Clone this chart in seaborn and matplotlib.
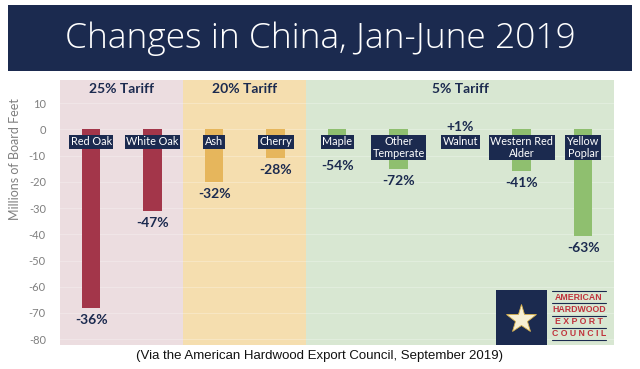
import matplotlib
matplotlib.use("Agg")
import matplotlib.pyplot as plt
from matplotlib.patches import Rectangle
import seaborn as sns
import pandas as pd
import numpy as np

# ---- data ----
species = ["Red Oak", "White Oak", "Ash", "Cherry", "Maple", "Other\nTemperate",
           "Walnut", "Western Red\nAlder", "Yellow\nPoplar"]
change_mbf = [-68, -31, -20, -11, -6, -15, 0.3, -16, -40.5]
pct_labels = ["-36%", "-47%", "-32%", "-28%", "-54%", "-72%", "+1%", "-41%", "-63%"]
tariff_group = ["25%", "25%", "20%", "20%", "5%", "5%", "5%", "5%", "5%"]
tariff_titles = ["25% Tariff", "20% Tariff", "5% Tariff"]
yticks = [10, 0, -10, -20, -30, -40, -50, -60, -70, -80]

NAVY = "#1b2a4f"
bar_col = {"25%": "#a3364a", "20%": "#e6b65c", "5%": "#8fbf6f"}
bg_col = {"25%": "#ecdde0", "20%": "#f5deaf", "5%": "#d8e7d2"}

df = pd.DataFrame({"species": species, "value": change_mbf, "group": tariff_group})

sns.set_style("white")
plt.rcParams["font.family"] = ["Lato", "DejaVu Sans"]

fig = plt.figure(figsize=(6.4, 3.69), dpi=100)
ax = fig.add_axes([50 / 640, 24 / 369, 570 / 640, 265 / 369])

# background bands per tariff group
groups = ["25%", "20%", "5%"]
xlim = (-0.67, 8.6)
for g, t in zip(groups, tariff_titles):
    members = [i for i, gg in enumerate(tariff_group) if gg == g]
    lo = max(min(members) - 0.5, xlim[0])
    hi = min(max(members) + 0.5, xlim[1])
    ax.axvspan(lo, hi, color=bg_col[g], zorder=0, lw=0)
    ax.text((lo + hi) / 2, 15.4, t, ha="center", va="center", fontsize=10,
            fontweight="bold", color=NAVY, zorder=5)

for y in yticks:
    ax.axhline(y, color="white", lw=0.6, alpha=0.3, zorder=0.5)

palette = [bar_col[g] for g in tariff_group]
sns.barplot(data=df, x="species", y="value", hue="species", palette=palette,
            legend=False, width=0.3, ax=ax, saturation=1, zorder=2,
            linewidth=0, edgecolor="none")

for i, (name, v, p) in enumerate(zip(species, change_mbf, pct_labels)):
    nlines = name.count("\n") + 1
    ax.text(i, -2.7, name, ha="center", va="top", fontsize=7.8, color="white",
            multialignment="center", linespacing=1.05, zorder=6,
            bbox=dict(boxstyle="square,pad=0.15", fc=NAVY, ec="none"))
    box_bottom = -7.9 if nlines == 1 else -13.2
    if v > 0:
        py = 1.0
    else:
        py = min(v, box_bottom - 1.6) - 4.6
    ax.text(i, py, p, ha="center", va="center", fontsize=10, fontweight="bold",
            color=NAVY, zorder=6)

ax.set_xlim(*xlim)
ax.set_ylim(-82.2, 18.8)
ax.set_yticks(yticks)
ax.set_yticklabels([str(t) for t in yticks])
ax.tick_params(axis="y", labelsize=8, labelcolor="#7f7f7f", length=0, pad=3)
ax.set_xticks([])
ax.set_xlabel("")
ax.set_ylabel("Millions of Board Feet", fontsize=9, color="#7f7f7f")
ax.yaxis.set_label_coords(-0.05, 0.70)
for s in ax.spines.values():
    s.set_visible(False)

# logo
lx0, lx1 = 0.782, 0.872
ax.add_patch(Rectangle((lx0, 0.0), lx1 - lx0, 0.2075, transform=ax.transAxes,
                       fc=NAVY, ec="none", zorder=7))
ax.plot([(lx0 + lx1) / 2], [0.1], marker="*", ms=22, color="#f7efd3",
        mec="#d9b24c", mew=0.6, transform=ax.transAxes, zorder=8)
logo_lines = ["AMERICAN", "HARDWOOD", "E X P O R T", "C O U N C I L"]
tx0, tx1 = 0.881, 0.975
for k, w in enumerate(logo_lines):
    yc = 0.18 - k * 0.046
    ax.text((tx0 + tx1) / 2, yc, w, transform=ax.transAxes, ha="center",
            va="center", fontsize=6.3, fontweight="bold", color="#c0323c",
            family=["Liberation Sans"], zorder=8)
for k in range(5):
    yl = 0.203 - k * 0.046
    ax.plot([tx0, tx1], [yl, yl], transform=ax.transAxes, color=NAVY, lw=0.8,
            zorder=8)

# title banner
fig.add_artist(Rectangle((8 / 640, 1 - 71 / 369), 624 / 640, 66 / 369,
                         transform=fig.transFigure, fc=NAVY, ec="none"))
fig.text(0.5, 1 - 39 / 369, "Changes in China, Jan-June 2019", ha="center",
         va="center", fontsize=25.5, color="white", fontweight="light",
         family=["Open Sans", "DejaVu Sans"])

fig.text(0.5, 1 - 356 / 369,
         "(Via the American Hardwood Export Council, September 2019)",
         ha="center", va="center", fontsize=9.5, color="#111111",
         family=["Liberation Sans"])

fig.savefig("out.png", dpi=100)
